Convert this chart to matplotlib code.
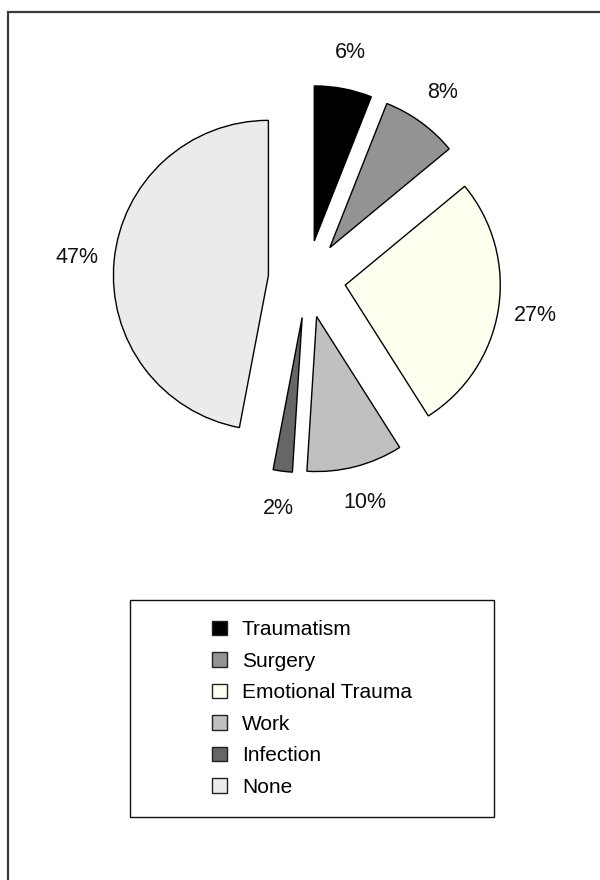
import matplotlib
matplotlib.use("Agg")
import matplotlib.pyplot as plt
import numpy as np
from matplotlib.patches import Rectangle, Patch

plt.rcParams['font.family'] = ['Liberation Sans', 'DejaVu Sans']

categories = ['Traumatism', 'Surgery', 'Emotional Trauma', 'Work', 'Infection', 'None']
shares = [6, 8, 27, 10, 2, 47]
colors = ['#000000', '#939393', '#FFFFF0', '#C0C0C0', '#666666', '#EBEBEB']

W, H = 600, 880
fig = plt.figure(figsize=(W / 100, H / 100), dpi=100)

# pie axes: centre at (307, 279) px from top-left, radius 155 px
cx, cy, r = 307, 279, 155
half = 1.8
side = 2 * half * r
ax = fig.add_axes([(cx - side / 2) / W, (H - cy - side / 2) / H, side / W, side / H])

wedges, texts = ax.pie(
    shares, colors=colors, startangle=90, counterclock=False,
    explode=[0.25] * len(shares),
    labels=[f'{s}%' for s in shares], labeldistance=None,
    wedgeprops=dict(edgecolor='black', linewidth=1.0),
)
# percentage labels, centred on the wedge direction
for w, s in zip(wedges, shares):
    ang = np.deg2rad((w.theta1 + w.theta2) / 2)
    d = 0.25 + 1.24
    ax.text(d * np.cos(ang), d * np.sin(ang), f'{s}%', ha='center', va='center',
            fontsize=15.5, color='#111111')
ax.set_xlim(-half, half)
ax.set_ylim(-half, half)
ax.set_aspect('equal')
ax.axis('off')

# legend box
bx0, by0, bx1, by1 = 130, 600, 494, 817
fig.patches.append(Rectangle((bx0 / W, 1 - by1 / H), (bx1 - bx0) / W, (by1 - by0) / H,
                             transform=fig.transFigure, fill=False,
                             edgecolor='#111111', linewidth=1.0))
handles = [Patch(facecolor=c, edgecolor='#222222', linewidth=1.0) for c in colors]
fig.legend(handles, categories, loc='center',
           bbox_to_anchor=((bx0 + bx1) / 2 / W, 1 - (by0 + by1) / 2 / H),
           frameon=False, fontsize=15, handlelength=0.72, handleheight=0.72,
           handletextpad=0.72, labelspacing=0.6, borderpad=0)

# outer frame (only left and top edges fall inside the image)
fig.patches.append(Rectangle((7.5 / W, -0.2), 2, 1.2 - 12.5 / H,
                             transform=fig.transFigure, fill=False,
                             edgecolor='#3a3a3a', linewidth=1.6))

fig.savefig('out.png', dpi=100)
